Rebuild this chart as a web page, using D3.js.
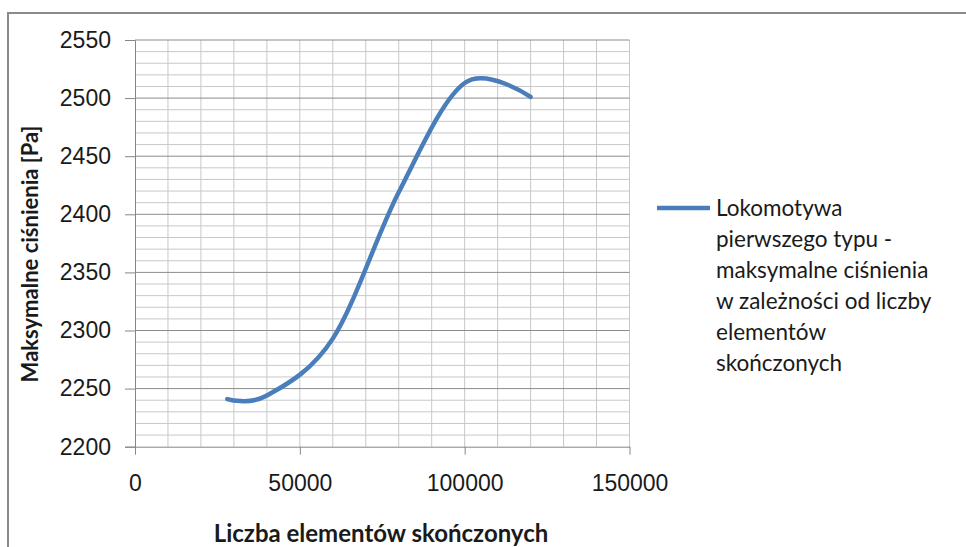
<!DOCTYPE html>
<html>
<head>
<meta charset="utf-8">
<script src="https://cdn.jsdelivr.net/npm/d3@7"></script>
<style>
  body { margin: 0; background: #fff; }
  svg { display: block; font-family: Lato, "Open Sans", sans-serif; }
</style>
</head>
<body>
<svg id="chart" width="966" height="547"></svg>
<script>
// values
var elementCounts = [28000, 40000, 60000, 80000, 100000, 120000];
var maxPressure = [2241, 2244, 2293, 2419, 2513, 2501];
var xTicks = [0, 50000, 100000, 150000];
var yTicks = [2200, 2250, 2300, 2350, 2400, 2450, 2500, 2550];
var legendLines = ['Lokomotywa', 'pierwszego typu -', 'maksymalne ciśnienia',
                   'w zależności od liczby', 'elementów', 'skończonych'];

var svg = d3.select('#chart');
var plot = { left: 135, right: 629.5, top: 40, bottom: 446.7 };

var xScale = d3.scaleLinear().domain([0, 150000]).range([plot.left, plot.right]);
var yScale = d3.scaleLinear().domain([2200, 2550]).range([plot.bottom, plot.top]);

// outer frame (only left and top visible)
svg.append('path')
  .attr('d', 'M8,547 L8,13 L966,13')
  .style('fill', 'none')
  .style('stroke', '#8a8a8a')
  .style('stroke-width', 2);

var g = svg.append('g');

// minor vertical grid every 10000
g.append('g')
  .selectAll('line')
  .data(d3.range(10000, 150001, 10000))
  .enter().append('line')
  .attr('x1', d => xScale(d)).attr('x2', d => xScale(d))
  .attr('y1', plot.top).attr('y2', plot.bottom)
  .style('stroke', '#c8c8c8')
  .style('stroke-width', 1);

// horizontal grid every 10 Pa, darker every 50
g.append('g')
  .selectAll('line')
  .data(d3.range(2210, 2551, 10))
  .enter().append('line')
  .attr('x1', plot.left).attr('x2', plot.right)
  .attr('y1', d => yScale(d)).attr('y2', d => yScale(d))
  .style('stroke', d => d % 50 == 0 ? '#8c8c8c' : '#c8c8c8')
  .style('stroke-width', 1);

// y axis
var yAxis = g.append('g')
  .attr('transform', `translate(${plot.left},0)`)
  .call(d3.axisLeft(yScale).tickValues(yTicks).tickSize(10).tickPadding(14).tickFormat(d3.format('d')));
yAxis.select('.domain').style('stroke', '#868686');
yAxis.selectAll('.tick line').style('stroke', '#868686');
yAxis.selectAll('text').style('font-size', '23px').style('fill', '#1a1a1a');

// x axis
var xAxis = g.append('g')
  .attr('transform', `translate(0,${plot.bottom})`)
  .call(d3.axisBottom(xScale).tickValues(xTicks).tickSize(8).tickSizeOuter(0).tickPadding(20).tickFormat(d3.format('d')));
xAxis.select('.domain').style('stroke', '#868686');
xAxis.selectAll('.tick line').style('stroke', '#868686');
xAxis.selectAll('text').style('font-size', '23px').style('fill', '#1a1a1a');

// smoothed line
var line = d3.line()
  .x((d, i) => xScale(elementCounts[i]))
  .y(d => yScale(d))
  .curve(d3.curveCardinal.tension(0));

g.append('path')
  .datum(maxPressure)
  .attr('d', line)
  .style('fill', 'none')
  .style('stroke', '#4a7ebb')
  .style('stroke-width', 4.5)
  .style('stroke-linecap', 'round');

// axis titles
svg.append('text')
  .attr('transform', 'translate(38,254) rotate(-90)')
  .attr('text-anchor', 'middle')
  .style('font-size', '22px')
  .style('font-weight', 'bold')
  .style('fill', '#1a1a1a')
  .text('Maksymalne ciśnienia [Pa]');

svg.append('text')
  .attr('x', 381)
  .attr('y', 542)
  .attr('text-anchor', 'middle')
  .style('font-size', '24px')
  .style('font-weight', 'bold')
  .style('fill', '#1a1a1a')
  .text('Liczba elementów skończonych');

// legend
var legend = svg.append('g');
legend.append('line')
  .attr('x1', 657).attr('x2', 710)
  .attr('y1', 208).attr('y2', 208)
  .style('stroke', '#4a7ebb')
  .style('stroke-width', 4.5);

legend.selectAll('text')
  .data(legendLines)
  .enter().append('text')
  .attr('x', 716)
  .attr('y', (d, i) => 216 + i * 31)
  .style('font-size', '22.5px')
  .style('fill', '#1a1a1a')
  .text(d => d);
</script>
</body>
</html>
